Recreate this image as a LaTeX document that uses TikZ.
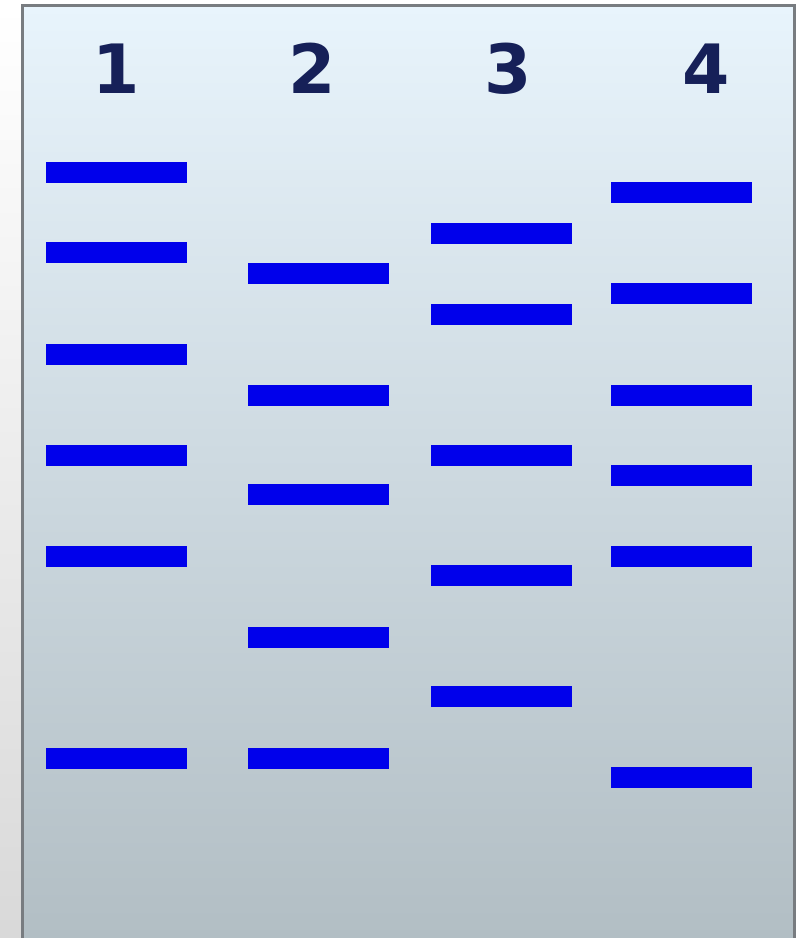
\documentclass[tikz,border=0pt]{standalone}
\usepackage{fontspec}
\setmainfont{DejaVu Sans}
\definecolor{geltop}{RGB}{232,244,252}
\definecolor{gelmid}{RGB}{214,226,234}
\definecolor{gelbot}{RGB}{178,190,196}
\definecolor{bandblue}{RGB}{0,0,235}
\definecolor{navy}{RGB}{22,32,88}
\definecolor{edgegrey}{RGB}{120,124,128}
\tikzset{
  band/.style={fill=bandblue, draw=none, minimum width=141pt, minimum height=21pt, inner sep=0pt, outer sep=0pt},
  lanelabel/.style={text=navy, font=\fontsize{68}{68}\selectfont\bfseries, inner sep=0pt, anchor=base}
}
\begin{document}
\begin{tikzpicture}[x=1pt,y=-1pt]
\useasboundingbox (0,0) rectangle (800,938);
% surroundings
\fill[white] (0,0) rectangle (800,938);
\shade[top color=white, bottom color=black!15] (0,5) rectangle (22,938);
% gel
\shade[top color=geltop, middle color=gelmid, bottom color=gelbot] (22,5) rectangle (794,938);
\draw[edgegrey, line width=3pt] (22,938) -- (22,5) -- (794,5) -- (794,938);
% lane labels
\node[lanelabel] (l1) at (116,93) {1};
\node[lanelabel] (l2) at (312,93) {2};
\node[lanelabel] (l3) at (508,93) {3};
\node[lanelabel] (l4) at (706,93) {4};
% lane 1
\foreach \y [count=\i] in {172,252,354,455,556,758}
  \node[band] (a\i) at (116,\y) {};
% lane 2
\foreach \y [count=\i] in {273,395,494,637,758}
  \node[band] (b\i) at (318,\y) {};
% lane 3
\foreach \y [count=\i] in {233,314,455,575,696}
  \node[band] (c\i) at (501,\y) {};
% lane 4
\foreach \y [count=\i] in {192,293,395,475,556,777}
  \node[band] (d\i) at (681.5,\y) {};
\end{tikzpicture}
\end{document}
